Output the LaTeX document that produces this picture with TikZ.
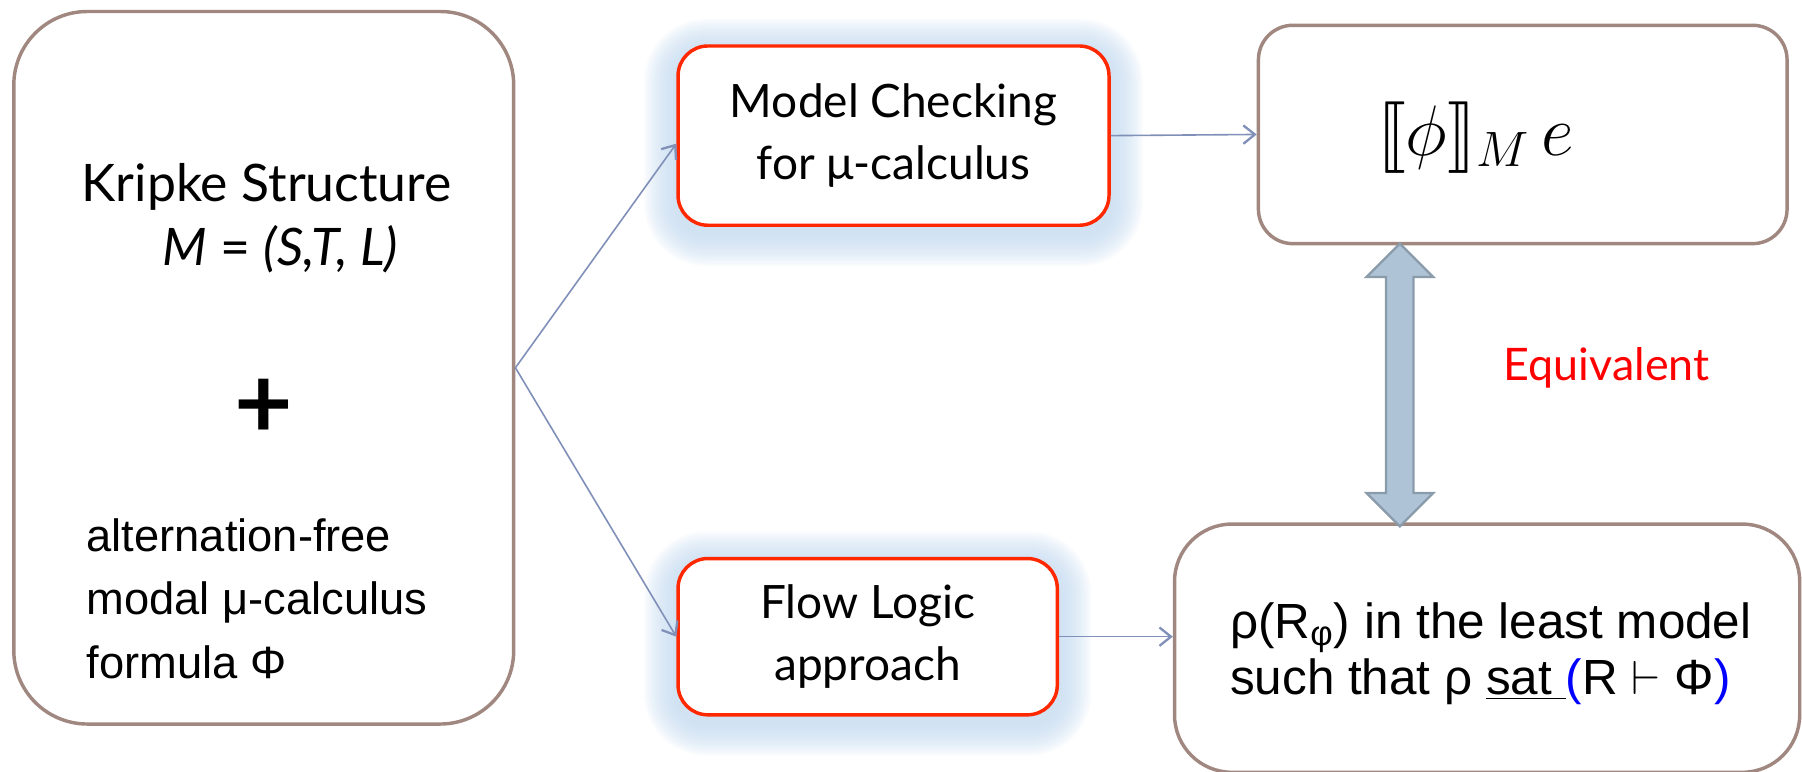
\documentclass[tikz,border=0pt]{standalone}
\usepackage{fontspec}
\usepackage{stmaryrd}
\setmainfont{Lato}
\newfontfamily\arialfont{Liberation Sans}
\usetikzlibrary{arrows.meta,shapes.arrows,backgrounds}
\definecolor{boxbrown}{RGB}{160,136,128}
\definecolor{methodred}{RGB}{255,40,0}
\definecolor{linkblue}{RGB}{128,144,184}
\definecolor{glowblue}{RGB}{196,218,240}
\definecolor{dblfill}{RGB}{174,195,214}
\definecolor{dblborder}{RGB}{138,155,170}
\definecolor{eqred}{RGB}{255,0,0}
\tikzset{
  box/.style={draw=boxbrown,line width=1.5pt,fill=white,rounded corners=#1},
  box/.default=15pt,
  method/.style={draw=methodred,line width=1.5pt,fill=white,rounded corners=13pt,align=center,font=\fontsize{20}{27}\selectfont},
  link/.style={draw=linkblue,line width=0.7pt,-{Straight Barb[length=5pt,width=8pt,line width=1pt]}},
}
\begin{document}
\begin{tikzpicture}[x=0.5pt,y=-0.5pt]
\useasboundingbox (0,0) rectangle (1568,671);
% input: structure and formula
\node [box=32pt,minimum width=217.5pt,minimum height=310pt] (kripke) at (229.5,320) {};
\node [align=center,font=\fontsize{22.5}{28}\selectfont] (ks) at (232,190) {Kripke Structure\\\hspace*{12pt}\textit{M} = \textit{(S,T, L)}};
\node [font=\fontsize{44}{44}\selectfont\bfseries] (plus) at (230,356) {+};
\node [align=left,anchor=west,inner sep=0pt,font=\arialfont\fontsize{19.7}{27.75}\selectfont] (formula) at (75,521) {alternation-free\\modal μ-calculus\\formula Φ};
% the two methods
\node [method,minimum width=187.5pt,minimum height=78pt] (mc) at (777.5,118) {Model Checking\\for μ-calculus};
\node [method,minimum width=165pt,minimum height=68pt] (fl) at (755,554) {Flow Logic\\approach};
% results
\node [box,minimum width=230pt,minimum height=95pt] (sem) at (1325,117) {};
\node [font=\fontsize{25}{30}\selectfont] (semlbl) at (1284,120) {\scalebox{1.25}{$\llbracket\phi\rrbracket_M\, e$}};
\node [box=25pt,minimum width=272pt,minimum height=108pt] (lfp) at (1294,564) {};
\node [align=left,anchor=west,inner sep=0pt,font=\arialfont\fontsize{21.5}{24.5}\selectfont] (lfplbl) at (1070,569) {ρ(R\textsubscript{φ}) in the least model\\such that ρ \underline{sat }{\color{blue}(}R $\vdash$ Φ{\color{blue})}};
\node [double arrow,draw=dblborder,fill=dblfill,line width=1pt,rotate=90,minimum height=123pt,inner xsep=0pt,inner ysep=5.5pt,double arrow head extend=8.5pt] (eqarrow) at (1218,335) {};
\node [text=eqred,font=\fontsize{19.5}{20}\selectfont] (equiv) at (1398,320) {Equivalent};
% connectors
\draw[link] (kripke.east) -- ([yshift=-3.5pt]mc.west);
\draw[link] (kripke.east) -- (fl.west);
\draw[link] (mc.east) -- (sem.west);
\draw[link] (fl.east) -- (fl.east -| lfp.west);
% glow round the methods
\begin{scope}[on background layer]
\foreach \n in {mc,fl}
  \foreach \d in {1,...,14}
    \fill[glowblue,opacity=0.1,rounded corners=13pt+\d pt]
      ([shift={(-\d pt,\d pt-3pt)}]\n.north west) rectangle ([shift={(\d pt,-\d pt-3pt)}]\n.south east);
\end{scope}
\end{tikzpicture}
\end{document}
